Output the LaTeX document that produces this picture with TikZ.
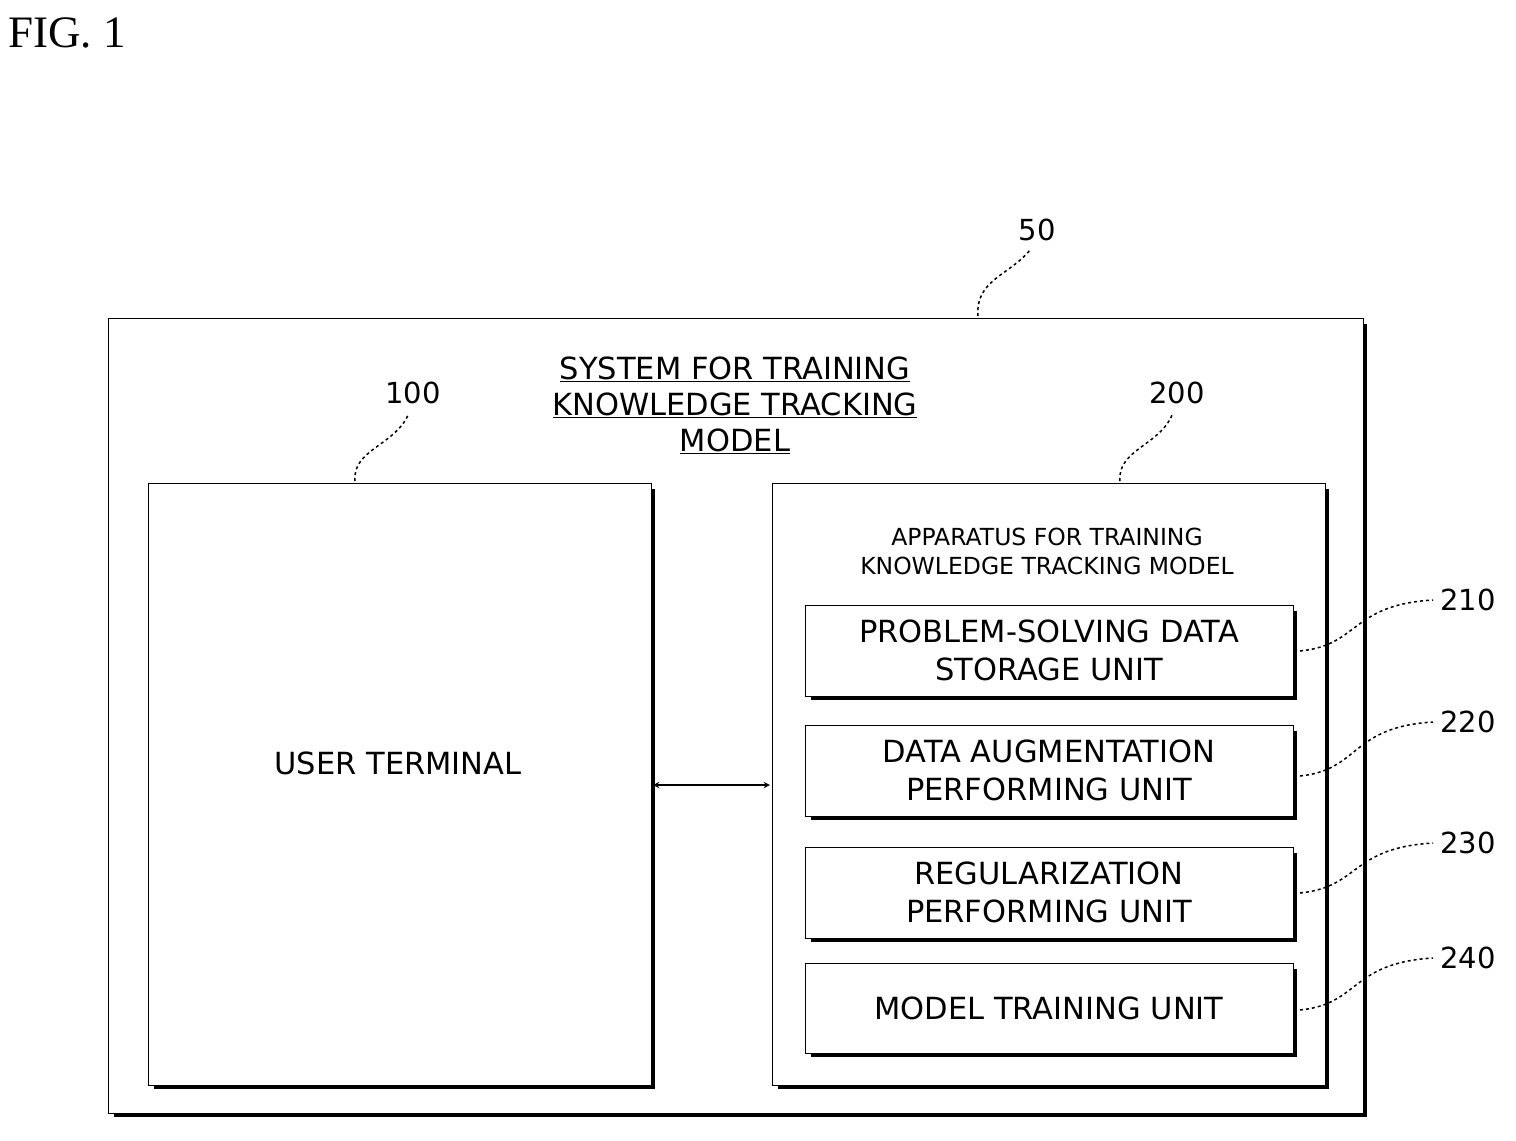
\documentclass[tikz,border=0pt]{standalone}
\usepackage{fontspec}
\setmainfont{Liberation Serif}
\newfontfamily\lbl{DejaVu Sans}
\begin{document}
\begin{tikzpicture}[x=1pt,y=-1pt,
  box/.style={draw,line width=0.8pt},
  shad/.style={line width=4pt},
  lead/.style={dashed,line width=1.5pt},
  txt/.style={font=\lbl\fontsize{30.5}{38}\selectfont,align=center},
  num/.style={font=\lbl\fontsize{29}{32}\selectfont}]
\useasboundingbox (0,0) rectangle (1516,1141);
\node[font=\fontsize{45}{50}\selectfont,anchor=west,inner sep=0] (fig) at (8,33) {FIG. 1};
% boxes
\newcommand{\myshbox}[5]{%
  \node[box,minimum width={(#4-#2)*1pt},minimum height={(#5-#3)*1pt},inner sep=0] (#1) at ({(#2+#4)/2},{(#3+#5)/2}) {};
  \draw[shad] (#4+2,#3+6) -- (#4+2,#5+2) -- (#2+6,#5+2);}
\myshbox{s50}{108}{318}{1363}{1113}
\myshbox{s100}{148}{483}{651}{1085}
\myshbox{s200}{772}{483}{1325}{1085}
\myshbox{u210}{805}{605}{1293}{696}
\myshbox{u220}{805}{725}{1293}{816}
\myshbox{u230}{805}{847}{1293}{938}
\myshbox{u240}{805}{963}{1293}{1053}
\node[txt] (t50) at (735,405) {\underline{SYSTEM FOR TRAINING}\\[-2pt]\underline{KNOWLEDGE TRACKING}\\[-2pt]\underline{MODEL}};
\node[txt] (t100) at (398,763) {USER TERMINAL};
\node[font=\lbl\fontsize{23.5}{29}\selectfont,align=center] (t200) at (1047,551) {APPARATUS FOR TRAINING\\KNOWLEDGE TRACKING MODEL};
\node[txt] at (u210) {PROBLEM-SOLVING DATA\\STORAGE UNIT};
\node[txt] at (u220) {DATA AUGMENTATION\\PERFORMING UNIT};
\node[txt] at (u230) {REGULARIZATION\\PERFORMING UNIT};
\node[txt] at (u240) {MODEL TRAINING UNIT};
\draw[<->,>=stealth,line width=1.8pt] (653,785) -- (770,785);
% reference numerals
\node[num] (n50) at (1037,230) {50};
\node[num] (n100) at (413,393) {100};
\node[num] (n200) at (1177,393) {200};
\node[num] (n210) at (1468,600) {210};
\node[num] (n220) at (1468,722) {220};
\node[num] (n230) at (1468,843) {230};
\node[num] (n240) at (1468,958) {240};
\draw[lead] (978,316) .. controls (975,280) and (1010,275) .. (1030,250);
\draw[lead] (355,481) .. controls (352,450) and (395,445) .. (408,415);
\draw[lead] (1120,481) .. controls (1117,450) and (1160,445) .. (1172,415);
\draw[lead] (1300,651) .. controls (1360,645) and (1350,605) .. (1433,600);
\draw[lead] (1300,776) .. controls (1360,770) and (1350,727) .. (1433,722);
\draw[lead] (1300,893) .. controls (1360,887) and (1350,848) .. (1433,843);
\draw[lead] (1300,1010) .. controls (1360,1004) and (1350,963) .. (1433,958);
\end{tikzpicture}
\end{document}
